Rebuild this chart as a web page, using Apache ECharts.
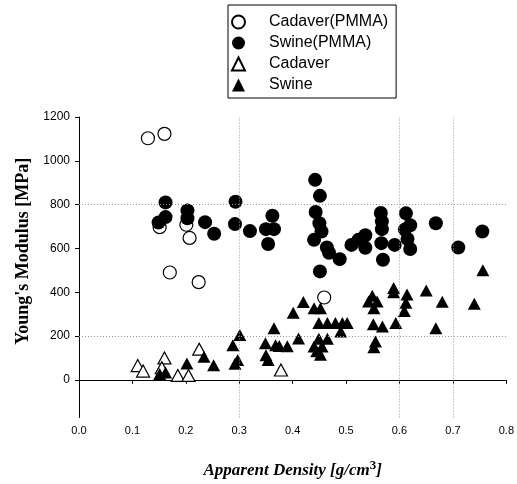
<!DOCTYPE html>
<html><head><meta charset="utf-8">
<script src="https://cdn.jsdelivr.net/npm/echarts@6/dist/echarts.min.js"></script>
<style>html,body{margin:0;padding:0;background:#fff}#c{width:517px;height:484px}</style>
</head><body><div id="c"></div>
<script>
const seriesNames = ['Cadaver(PMMA)', 'Swine(PMMA)', 'Cadaver', 'Swine'];
const xTicks = [0, 0.1, 0.2, 0.3, 0.4, 0.5, 0.6, 0.7, 0.8];
const yTicks = [0, 200, 400, 600, 800, 1000, 1200];

const cadaverPMMA = [
  [0.129, 1103], [0.160, 1123], [0.151, 697], [0.201, 708], [0.207, 648],
  [0.170, 490], [0.224, 446], [0.459, 376]
];
const swinePMMA = [
  [0.149, 718], [0.162, 743], [0.162, 810], [0.203, 773], [0.203, 738], [0.236, 720],
  [0.253, 667], [0.293, 813], [0.292, 711], [0.320, 679], [0.350, 688], [0.365, 688],
  [0.362, 749], [0.354, 620], [0.442, 913], [0.451, 840], [0.443, 766], [0.450, 715],
  [0.454, 677], [0.440, 639], [0.464, 604], [0.468, 580], [0.488, 551], [0.451, 495],
  [0.510, 616], [0.523, 639], [0.536, 660], [0.536, 603], [0.565, 762], [0.567, 723],
  [0.567, 688], [0.566, 624], [0.569, 548], [0.591, 616], [0.612, 760], [0.620, 706],
  [0.610, 686], [0.615, 643], [0.620, 597], [0.668, 715], [0.710, 604], [0.755, 677]
];
const cadaver = [
  [0.110, 65], [0.120, 40], [0.160, 100], [0.155, 55], [0.185, 20], [0.205, 20],
  [0.225, 140], [0.378, 45]
];
const swine = [
  [0.151, 27], [0.162, 34], [0.202, 74], [0.234, 105], [0.252, 67], [0.288, 158],
  [0.297, 91], [0.292, 73], [0.301, 205], [0.349, 167], [0.350, 112], [0.354, 91],
  [0.365, 236], [0.368, 158], [0.375, 155], [0.390, 153], [0.401, 306], [0.411, 189],
  [0.420, 355], [0.440, 327], [0.452, 327], [0.449, 259], [0.465, 259], [0.480, 259],
  [0.493, 259], [0.502, 259], [0.490, 221], [0.449, 187], [0.465, 187], [0.440, 152],
  [0.455, 152], [0.452, 114], [0.445, 130], [0.549, 384], [0.542, 358], [0.558, 358],
  [0.552, 327], [0.551, 254], [0.568, 243], [0.555, 175], [0.552, 149], [0.589, 419],
  [0.589, 400], [0.614, 390], [0.612, 352], [0.609, 314], [0.650, 408], [0.680, 356],
  [0.740, 347], [0.756, 500], [0.668, 236], [0.593, 259]
];
const gridY = [800, 200];
const gridX = [0.3, 0.6, 0.7];

const chart = echarts.init(document.getElementById('c'), null, {renderer: 'canvas'});
const openStyle = {color: '#fff', borderColor: '#000', borderWidth: 1.2, opacity: 1};
const fillStyle = {color: '#000', borderColor: '#000', borderWidth: 0, opacity: 1};

chart.setOption({
  animation: false,
  backgroundColor: '#fff',
  grid: {left: 79, right: 9, top: 117, bottom: 66, containLabel: false},
  legend: {
    data: seriesNames,
    orient: 'vertical',
    left: 228, top: 5,
    padding: [9, 8, 5, 3],
    itemWidth: 13, itemHeight: 13, itemGap: 5,
    borderColor: '#000', borderWidth: 1,
    textStyle: {fontFamily: 'Liberation Sans', fontSize: 16, color: '#000', padding: [0, 0, 0, 19]}
  },
  xAxis: {
    type: 'value', min: 0, max: 0.8, interval: 0.1,
    name: '{a|Apparent Density [g/cm}{b|3}{a|]}',
    nameLocation: 'middle', nameGap: 42,
    nameTextStyle: {
      rich: {
        a: {fontFamily: 'Liberation Serif', fontWeight: 'bold', fontStyle: 'italic', fontSize: 17, color: '#000'},
        b: {fontFamily: 'Liberation Serif', fontWeight: 'bold', fontSize: 13, color: '#000', padding: [0, 0, 9, 0]}
      }
    },
    axisLine: {show: true, lineStyle: {color: '#000', width: 1}},
    axisTick: {show: true, length: 4, lineStyle: {color: '#000'}},
    axisLabel: {fontFamily: 'Liberation Sans', fontSize: 11, color: '#000', margin: 8,
      formatter: v => v.toFixed(1)},
    splitLine: {show: false}
  },
  yAxis: {
    type: 'value', min: -172, max: 1200,
    name: "Young's Modulus [MPa]",
    nameLocation: 'middle', nameGap: 45,
    nameTextStyle: {fontFamily: 'Liberation Serif', fontWeight: 'bold', fontSize: 18, color: '#000', padding: [0, 0, 0, 32]},
    axisLine: {show: true, lineStyle: {color: '#000', width: 1}},
    axisTick: {show: true, length: 4, customValues: yTicks, lineStyle: {color: '#000'}},
    axisLabel: {fontFamily: 'Liberation Sans', fontSize: 12, color: '#000', margin: 9, customValues: yTicks,
      formatter: v => String(v)},
    splitLine: {show: false}
  },
  series: [
    {name: seriesNames[0], type: 'scatter', data: cadaverPMMA, symbol: 'circle', symbolSize: 13, itemStyle: openStyle, z: 3},
    {name: seriesNames[1], type: 'scatter', data: swinePMMA, symbol: 'circle', symbolSize: 14, itemStyle: fillStyle, z: 4},
    {name: seriesNames[2], type: 'scatter', data: cadaver, symbol: 'triangle', symbolSize: [13, 12], itemStyle: openStyle, z: 2},
    {name: seriesNames[3], type: 'scatter', data: swine, symbol: 'triangle', symbolSize: [13, 12], itemStyle: fillStyle, z: 2},
    {name: 'grid', type: 'scatter', data: [], silent: true, z: 1,
      markLine: {
        silent: true, symbol: 'none', animation: false,
        label: {show: false},
        lineStyle: {color: '#9a9a9a', type: [1, 2], width: 1},
        data: gridY.map(v => ({yAxis: v})).concat(gridX.map(v => ({xAxis: v})))
      }
    }
  ]
});
</script>
</body></html>
